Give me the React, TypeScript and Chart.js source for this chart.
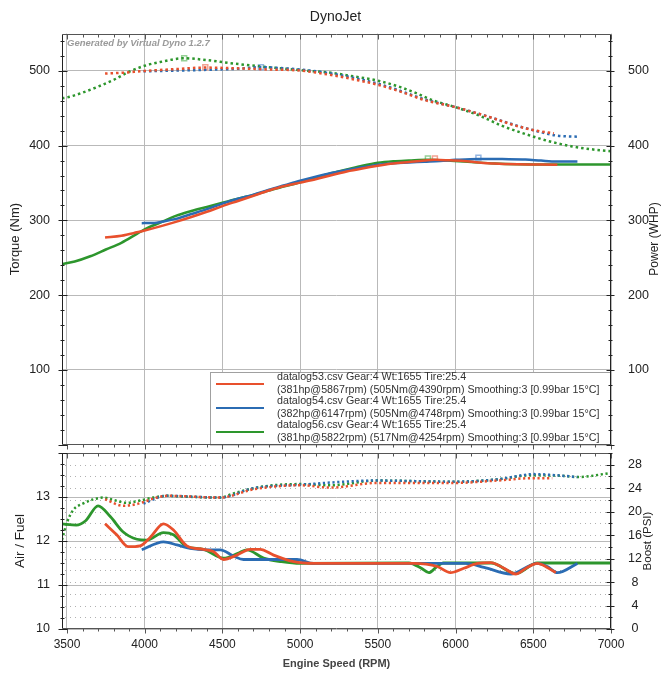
import React, { useEffect, useRef } from 'react';
import { Chart, registerables } from 'chart.js';

Chart.register(...registerables);

const FONT = "'Liberation Sans', Arial, Helvetica, sans-serif";
const RED = '#e8502d';
const BLUE = '#2b6cb3';
const GREEN = '#2d962d';
const RED_L = '#f3a393';
const BLUE_L = '#94b6e2';
const GREEN_L = '#96d096';
const GRID = '#b9b9b9';
const TXT = '#222';

// ---------- legend text ----------
const legendTitles = [
  'datalog53.csv Gear:4 Wt:1655 Tire:25.4',
  'datalog54.csv Gear:4 Wt:1655 Tire:25.4',
  'datalog56.csv Gear:4 Wt:1655 Tire:25.4',
];
const legendDetails = [
  '(381hp@5867rpm) (505Nm@4390rpm) Smoothing:3 [0.99bar 15°C]',
  '(382hp@6147rpm) (505Nm@4748rpm) Smoothing:3 [0.99bar 15°C]',
  '(381hp@5822rpm) (517Nm@4254rpm) Smoothing:3 [0.99bar 15°C]',
];
const legendColors = [RED, BLUE, GREEN];

// ---------- ticks ----------
const xTicks = [3500, 4000, 4500, 5000, 5500, 6000, 6500, 7000];
const torqueTicks = [100, 200, 300, 400, 500];
const afrTicks = [10, 11, 12, 13];
const boostTicks = [0, 4, 8, 12, 16, 20, 24, 28];

// ---------- torque (Nm), dotted ----------
const rpmTorque53 = [3745, 3850, 4000, 4200, 4390, 4600, 4800, 5000, 5200, 5350, 5500, 5650, 5800, 6000, 6200, 6400, 6520, 6633];
const torque53 = [496.5, 497.5, 500, 502.5, 504.5, 503.5, 502, 500.5, 494.5, 488.5, 481.5, 472, 461, 451.5, 439.5, 426, 420, 416.5];
const rpmTorque54 = [3992, 4200, 4400, 4600, 4748, 4900, 5000, 5200, 5350, 5500, 5650, 5800, 6000, 6200, 6400, 6550, 6650, 6784];
const torque54 = [499.5, 500.5, 501.5, 503, 505, 503.5, 502, 496.5, 490.5, 483, 473, 462, 451.5, 439.5, 426.5, 418, 413.5, 412];
const rpmTorque56 = [3468, 3500, 3600, 3700, 3800, 3900, 4000, 4100, 4254, 4400, 4550, 4750, 5000, 5200, 5350, 5500, 5650, 5750, 5850, 6000, 6150, 6300, 6450, 6600, 6750, 6900, 7000];
const torque56 = [463.5, 464.5, 471, 479, 488, 499, 507, 512, 517, 514.5, 510.5, 506, 501, 497.5, 492.5, 487, 478, 470, 461, 451.5, 440.5, 426.5, 415.5, 406, 399, 394.5, 392.5];

// ---------- power (WHP), solid ----------
const rpmPower53 = [3745, 3850, 3950, 4000, 4100, 4200, 4300, 4400, 4500, 4600, 4700, 4800, 4900, 5000, 5100, 5200, 5300, 5400, 5500, 5600, 5700, 5800, 5867, 5950, 6050, 6150, 6250, 6400, 6550, 6655];
const power53 = [277, 279.5, 284, 286.5, 292, 298, 304.5, 311.5, 319, 326, 333, 340, 346, 350.5, 355, 360.5, 365.5, 369.5, 373, 376, 378, 380, 381, 380.5, 379.5, 377.5, 376, 375, 374.7, 374.5];
const rpmPower54 = [3981, 4050, 4121, 4200, 4300, 4400, 4500, 4600, 4700, 4800, 4900, 5000, 5100, 5200, 5300, 5400, 5500, 5600, 5700, 5800, 5900, 6000, 6147, 6300, 6450, 6550, 6650, 6784];
const power54 = [296.3, 296.5, 298.5, 302, 308.5, 315, 322.5, 329, 334.5, 341, 347, 353, 358.5, 363.5, 367.5, 371, 374.5, 376.5, 377.5, 378.5, 379.5, 381, 382.3, 382, 381.5, 380, 378.8, 378.7];
const rpmPower56 = [3468, 3550, 3650, 3750, 3850, 3950, 4000, 4100, 4200, 4300, 4400, 4500, 4600, 4700, 4800, 4900, 5000, 5100, 5200, 5300, 5400, 5500, 5600, 5700, 5822, 5950, 6100, 6250, 6400, 6550, 7000];
const power56 = [241.5, 245, 252, 261, 270, 282, 288, 297, 306, 312.5, 318, 323.5, 329, 334, 340, 345.5, 351, 357, 363, 368, 373, 377, 379, 380, 381, 380, 378, 376, 375, 374.8, 374.8];

// ---------- peaks ----------
const peakTorqueRpm = [4390, 4748, 4254];
const peakTorque = [505, 505, 517];
const peakPowerRpm = [5867, 6147, 5822];
const peakPower = [381, 382, 381];

// ---------- air / fuel, solid ----------
const rpmAfr53 = [3745, 3820, 3895, 3970, 4035, 4121, 4185, 4271, 4378, 4442, 4507, 4593, 4679, 4743, 4829, 4958, 5087, 5731, 5882, 5967, 6053, 6140, 6226, 6312, 6386, 6461, 6526, 6590, 6645];
const afr53 = [12.39, 12.14, 11.87, 11.89, 12.08, 12.39, 12.25, 11.89, 11.81, 11.76, 11.58, 11.68, 11.81, 11.81, 11.68, 11.53, 11.49, 11.49, 11.42, 11.28, 11.38, 11.49, 11.51, 11.38, 11.25, 11.4, 11.49, 11.4, 11.28];
const rpmAfr54 = [3981, 4121, 4207, 4292, 4400, 4486, 4571, 4636, 4829, 4980, 5087, 6065, 6183, 6355, 6483, 6526, 6590, 6655, 6784];
const afr54 = [11.8, 11.98, 11.91, 11.83, 11.8, 11.8, 11.66, 11.58, 11.58, 11.58, 11.49, 11.49, 11.4, 11.25, 11.45, 11.49, 11.42, 11.28, 11.49];
const rpmAfr56 = [3468, 3560, 3620, 3700, 3780, 3860, 3950, 4013, 4121, 4185, 4271, 4378, 4507, 4600, 4658, 4765, 4880, 5000, 5700, 5780, 5828, 5880, 5920, 6230, 6386, 6526, 7000];
const afr56 = [12.39, 12.36, 12.46, 12.8, 12.55, 12.21, 12.04, 12.02, 12.19, 12.14, 11.87, 11.81, 11.61, 11.72, 11.8, 11.61, 11.53, 11.49, 11.5, 11.38, 11.28, 11.42, 11.5, 11.5, 11.26, 11.5, 11.5];

// ---------- boost (PSI), dotted ----------
const rpmBoost53 = [3745, 3863, 3949, 4078, 4142, 4486, 4700, 5001, 5195, 5496, 5990, 6269, 6483, 6622];
const boost53 = [22.1, 21.0, 21.3, 22.4, 22.7, 22.4, 23.8, 24.5, 24.1, 24.9, 24.9, 25.3, 25.7, 25.7];
const rpmBoost54 = [3992, 4142, 4486, 4700, 5001, 5496, 5990, 6269, 6505, 6698, 6784];
const boost54 = [21.4, 22.7, 22.4, 24.0, 24.6, 25.3, 25.1, 25.5, 26.4, 26.1, 25.9];
const rpmBoost56 = [3468, 3498, 3541, 3605, 3670, 3734, 3798, 3884, 3970, 4056, 4142, 4271, 4486, 4571, 4700, 4829, 5001, 5195, 5496, 5990, 6269, 6483, 6698, 6784, 7000];
const boost56 = [15.2, 18.0, 20.3, 21.4, 22.1, 22.4, 22.0, 21.5, 21.9, 22.4, 22.7, 22.55, 22.4, 23.1, 24.0, 24.5, 24.7, 24.5, 25.3, 25.1, 25.5, 26.2, 26.1, 25.9, 26.6];

const pts = (xs: number[], ys: number[]) => xs.map((x, i) => ({ x, y: ys[i] }));
const plain = (v: any) => String(v);

function lineDs(label: string, xs: number[], ys: number[], color: string, axis: string, extra: any = {}) {
  return {
    label,
    data: pts(xs, ys),
    borderColor: color,
    backgroundColor: color,
    yAxisID: axis,
    pointRadius: 0,
    fill: false,
    cubicInterpolationMode: 'monotone',
    borderCapStyle: 'butt',
    ...extra,
  };
}

function markerDs(label: string, x: number, y: number, color: string, axis: string) {
  return {
    label,
    data: [{ x, y }],
    yAxisID: axis,
    showLine: false,
    pointStyle: 'rect',
    pointRadius: 3.5,
    pointBorderWidth: 1.5,
    pointBorderColor: color,
    pointBackgroundColor: 'rgba(255,255,255,0.45)',
    borderColor: color,
  };
}

function drawFrame(chart: any, leftId: string, rightId: string, lMinor: number, lMajor: number, rMinor: number, rMajor: number) {
  const { ctx, chartArea: a, scales } = chart;
  const xs = scales.x;
  const L = Math.round(a.left) + 0.5;
  const R = Math.round(a.right) - 0.5;
  const T = Math.round(a.top) + 0.5;
  const B = Math.round(a.bottom) - 0.5;
  ctx.save();
  ctx.lineWidth = 1;
  ctx.strokeStyle = '#555';
  ctx.beginPath();
  ctx.moveTo(L, T); ctx.lineTo(R, T);
  ctx.moveTo(L, B); ctx.lineTo(R, B);
  for (let r = 3500; r <= 7000; r += 100) {
    const p = Math.round(xs.getPixelForValue(r)) + 0.5;
    const major = r % 500 === 0;
    ctx.moveTo(p, T); ctx.lineTo(p, T + (major ? 5 : 3));
    ctx.moveTo(p, B); ctx.lineTo(p, B + (major ? 5 : 3));
  }
  ctx.stroke();
  ctx.strokeStyle = '#222';
  ctx.beginPath();
  ctx.moveTo(L, T); ctx.lineTo(L, B);
  ctx.moveTo(R, T); ctx.lineTo(R, B);
  const ls = scales[leftId];
  for (let v = ls.min; v <= ls.max + 1e-9; v += lMinor) {
    const py = Math.round(ls.getPixelForValue(v)) + 0.5;
    const q = v / lMajor;
    const major = Math.abs(q - Math.round(q)) < 1e-6;
    ctx.moveTo(L - (major ? 4 : 2), py); ctx.lineTo(L + (major ? 5 : 2), py);
  }
  const rs = scales[rightId];
  for (let v = rs.min; v <= rs.max + 1e-9; v += rMinor) {
    const py = Math.round(rs.getPixelForValue(v)) + 0.5;
    const q = v / rMajor;
    const major = Math.abs(q - Math.round(q)) < 1e-6;
    ctx.moveTo(R - (major ? 4 : 2), py); ctx.lineTo(R + (major ? 4 : 2), py);
  }
  ctx.stroke();
  ctx.restore();
}

function drawVTitle(ctx: any, text: string, x: number, y: number, size: number) {
  ctx.save();
  ctx.translate(x, y);
  ctx.rotate(-Math.PI / 2);
  ctx.font = `${size}px ${FONT}`;
  ctx.fillStyle = TXT;
  ctx.textAlign = 'center';
  ctx.textBaseline = 'middle';
  ctx.fillText(text, 0, 0);
  ctx.restore();
}

const topPlugin = {
  id: 'topDecor',
  afterDraw(chart: any) {
    const { ctx } = chart;
    // watermark
    ctx.save();
    ctx.font = `italic bold 9.5px ${FONT}`;
    ctx.fillStyle = '#9a9a9a';
    ctx.textBaseline = 'middle';
    ctx.textAlign = 'left';
    ctx.fillText('Generated by Virtual Dyno 1.2.7', 67, 43);
    ctx.restore();
    // legend box
    ctx.save();
    ctx.fillStyle = '#fff';
    ctx.fillRect(210, 372.5, 400, 72.5);
    ctx.strokeStyle = '#a0a0a0';
    ctx.lineWidth = 1;
    ctx.strokeRect(210.5, 372.5, 400, 72.5);
    ctx.font = `10.7px ${FONT}`;
    ctx.fillStyle = '#333';
    ctx.textBaseline = 'middle';
    ctx.textAlign = 'left';
    for (let i = 0; i < legendTitles.length; i++) {
      const y0 = 384 + i * 24;
      ctx.strokeStyle = legendColors[i];
      ctx.lineWidth = 2;
      ctx.beginPath();
      ctx.moveTo(216, y0);
      ctx.lineTo(264, y0);
      ctx.stroke();
      ctx.fillText(legendTitles[i], 277, y0 - 6.8);
      ctx.fillText(legendDetails[i], 277, y0 + 6);
    }
    ctx.restore();
    drawFrame(chart, 'yT', 'yP', 20, 100, 20, 100);
    drawVTitle(ctx, 'Power (WHP)', 655, 239, 12);
  },
};

const bottomPlugin = {
  id: 'bottomDecor',
  beforeDatasetsDraw(chart: any) {
    const { ctx, chartArea: a, scales } = chart;
    const bs = scales.yB;
    ctx.save();
    ctx.strokeStyle = '#b0b0b0';
    ctx.lineWidth = 1;
    ctx.setLineDash([1, 4]);
    ctx.beginPath();
    for (let v = 2; v <= 28; v += 2) {
      const py = Math.round(bs.getPixelForValue(v)) + 0.5;
      ctx.moveTo(a.left + 3, py);
      ctx.lineTo(a.right, py);
    }
    ctx.stroke();
    ctx.restore();
  },
  afterDraw(chart: any) {
    drawFrame(chart, 'yA', 'yB', 0.25, 1, 2, 4);
    drawVTitle(chart.ctx, 'Boost (PSI)', 648, 93, 11.5);
  },
};

const xScaleBase = {
  type: 'linear',
  min: 3468,
  max: 7000,
  afterBuildTicks: (s: any) => { s.ticks = xTicks.map((v) => ({ value: v })); },
  grid: { color: GRID, drawTicks: false },
  border: { display: false },
};

export default function App() {
  const topRef = useRef<HTMLCanvasElement>(null);
  const botRef = useRef<HTMLCanvasElement>(null);

  useEffect(() => {
    const top = new Chart(topRef.current as HTMLCanvasElement, {
      type: 'line',
      data: {
        datasets: [
          lineDs('P53', rpmPower53, power53, RED, 'yP', { borderWidth: 2.5 }),
          lineDs('P54', rpmPower54, power54, BLUE, 'yP', { borderWidth: 2.5 }),
          lineDs('P56', rpmPower56, power56, GREEN, 'yP', { borderWidth: 2.5 }),
          lineDs('T53', rpmTorque53, torque53, RED, 'yT', { borderWidth: 2.5, borderDash: [2.5, 3] }),
          lineDs('T54', rpmTorque54, torque54, BLUE, 'yT', { borderWidth: 2.5, borderDash: [2.5, 3] }),
          lineDs('T56', rpmTorque56, torque56, GREEN, 'yT', { borderWidth: 2.5, borderDash: [2.5, 3] }),
          markerDs('mT53', peakTorqueRpm[0], peakTorque[0], RED_L, 'yT'),
          markerDs('mT54', peakTorqueRpm[1], peakTorque[1], BLUE_L, 'yT'),
          markerDs('mT56', peakTorqueRpm[2], peakTorque[2], GREEN_L, 'yT'),
          markerDs('mP53', peakPowerRpm[0], peakPower[0] + 2, RED_L, 'yP'),
          markerDs('mP54', peakPowerRpm[1], peakPower[1] + 2, BLUE_L, 'yP'),
          markerDs('mP56', peakPowerRpm[2], peakPower[2] + 2, GREEN_L, 'yP'),
        ] as any,
      },
      options: {
        responsive: false,
        animation: false,
        events: [],
        layout: { padding: 0 },
        plugins: {
          legend: { display: false },
          tooltip: { enabled: false },
          title: {
            display: true,
            text: 'DynoJet',
            color: TXT,
            font: { family: FONT, size: 14, weight: 'normal' },
            padding: { top: 8.6, bottom: 8.2 },
          },
        },
        scales: {
          x: {
            ...xScaleBase,
            ticks: { display: false },
            afterFit: (s: any) => { s.height = 5.25; s.paddingLeft = 0; s.paddingRight = 0; },
          },
          yT: {
            position: 'left',
            min: 0,
            max: 550,
            afterBuildTicks: (s: any) => { s.ticks = torqueTicks.map((v) => ({ value: v })); },
            ticks: { color: TXT, padding: 12, font: { family: FONT, size: 12.5 }, callback: plain },
            grid: { color: GRID, drawTicks: false },
            border: { display: false },
            title: { display: true, text: 'Torque (Nm)', color: TXT, font: { family: FONT, size: 13 }, padding: { top: 7.2, bottom: 0 } },
            afterFit: (s: any) => { s.width = 62; s.paddingTop = 0; s.paddingBottom = 0; },
          },
          yP: {
            position: 'right',
            min: 0,
            max: 550,
            afterBuildTicks: (s: any) => { s.ticks = torqueTicks.map((v) => ({ value: v })); },
            ticks: { color: TXT, padding: 9, font: { family: FONT, size: 12.5 }, callback: plain },
            grid: { display: false },
            border: { display: false },
            afterFit: (s: any) => { s.width = 60; s.paddingTop = 0; s.paddingBottom = 0; },
          },
        },
      } as any,
      plugins: [topPlugin],
    });

    const bot = new Chart(botRef.current as HTMLCanvasElement, {
      type: 'line',
      data: {
        datasets: [
          lineDs('A53', rpmAfr53, afr53, RED, 'yA', { borderWidth: 2.8 }),
          lineDs('A54', rpmAfr54, afr54, BLUE, 'yA', { borderWidth: 2.8 }),
          lineDs('A56', rpmAfr56, afr56, GREEN, 'yA', { borderWidth: 2.8 }),
          lineDs('B53', rpmBoost53, boost53, RED, 'yB', { borderWidth: 2.5, borderDash: [2.2, 2.6] }),
          lineDs('B54', rpmBoost54, boost54, BLUE, 'yB', { borderWidth: 2.5, borderDash: [2.2, 2.6] }),
          lineDs('B56', rpmBoost56, boost56, GREEN, 'yB', { borderWidth: 2.5, borderDash: [2.2, 2.6] }),
        ] as any,
      },
      options: {
        responsive: false,
        animation: false,
        events: [],
        layout: { padding: { top: 5, left: 0, right: 0, bottom: 0 } },
        plugins: { legend: { display: false }, tooltip: { enabled: false }, title: { display: false } },
        scales: {
          x: {
            ...xScaleBase,
            ticks: { color: TXT, padding: 8, font: { family: FONT, size: 12 }, maxRotation: 0, callback: plain },
            title: {
              display: true,
              text: 'Engine Speed (RPM)',
              color: '#444',
              font: { family: FONT, size: 11, weight: 'bold' },
              padding: { top: 0, bottom: 8.4 },
            },
            afterFit: (s: any) => { s.height = 50; s.paddingLeft = 0; s.paddingRight = 0; },
          },
          yA: {
            position: 'left',
            min: 10,
            max: 14,
            afterBuildTicks: (s: any) => { s.ticks = afrTicks.map((v) => ({ value: v })); },
            ticks: { color: TXT, padding: 12, font: { family: FONT, size: 12.5 }, callback: plain },
            grid: { color: GRID, drawTicks: false },
            border: { display: false },
            title: { display: true, text: 'Air / Fuel', color: TXT, font: { family: FONT, size: 13.5 }, padding: { top: 11.9, bottom: 0 } },
            afterFit: (s: any) => { s.width = 62; s.paddingTop = 0; s.paddingBottom = 0; },
          },
          yB: {
            position: 'right',
            min: 0,
            max: 30,
            afterBuildTicks: (s: any) => { s.ticks = boostTicks.map((v) => ({ value: v })); },
            ticks: { color: TXT, padding: 9, crossAlign: 'center', font: { family: FONT, size: 12.5 }, callback: plain },
            grid: { display: false },
            border: { display: false },
            afterFit: (s: any) => { s.width = 60; s.paddingTop = 0; s.paddingBottom = 0; },
          },
        },
      } as any,
      plugins: [bottomPlugin],
    });

    return () => {
      top.destroy();
      bot.destroy();
    };
  }, []);

  return (
    <div style={{ position: 'absolute', left: 0, top: 0, width: 671, height: 679, background: '#fff', overflow: 'hidden' }}>
      <canvas ref={topRef} width={671} height={450} style={{ position: 'absolute', left: 0, top: 0, width: 671, height: 450 }} />
      <canvas ref={botRef} width={671} height={231} style={{ position: 'absolute', left: 0, top: 448, width: 671, height: 231 }} />
    </div>
  );
}
